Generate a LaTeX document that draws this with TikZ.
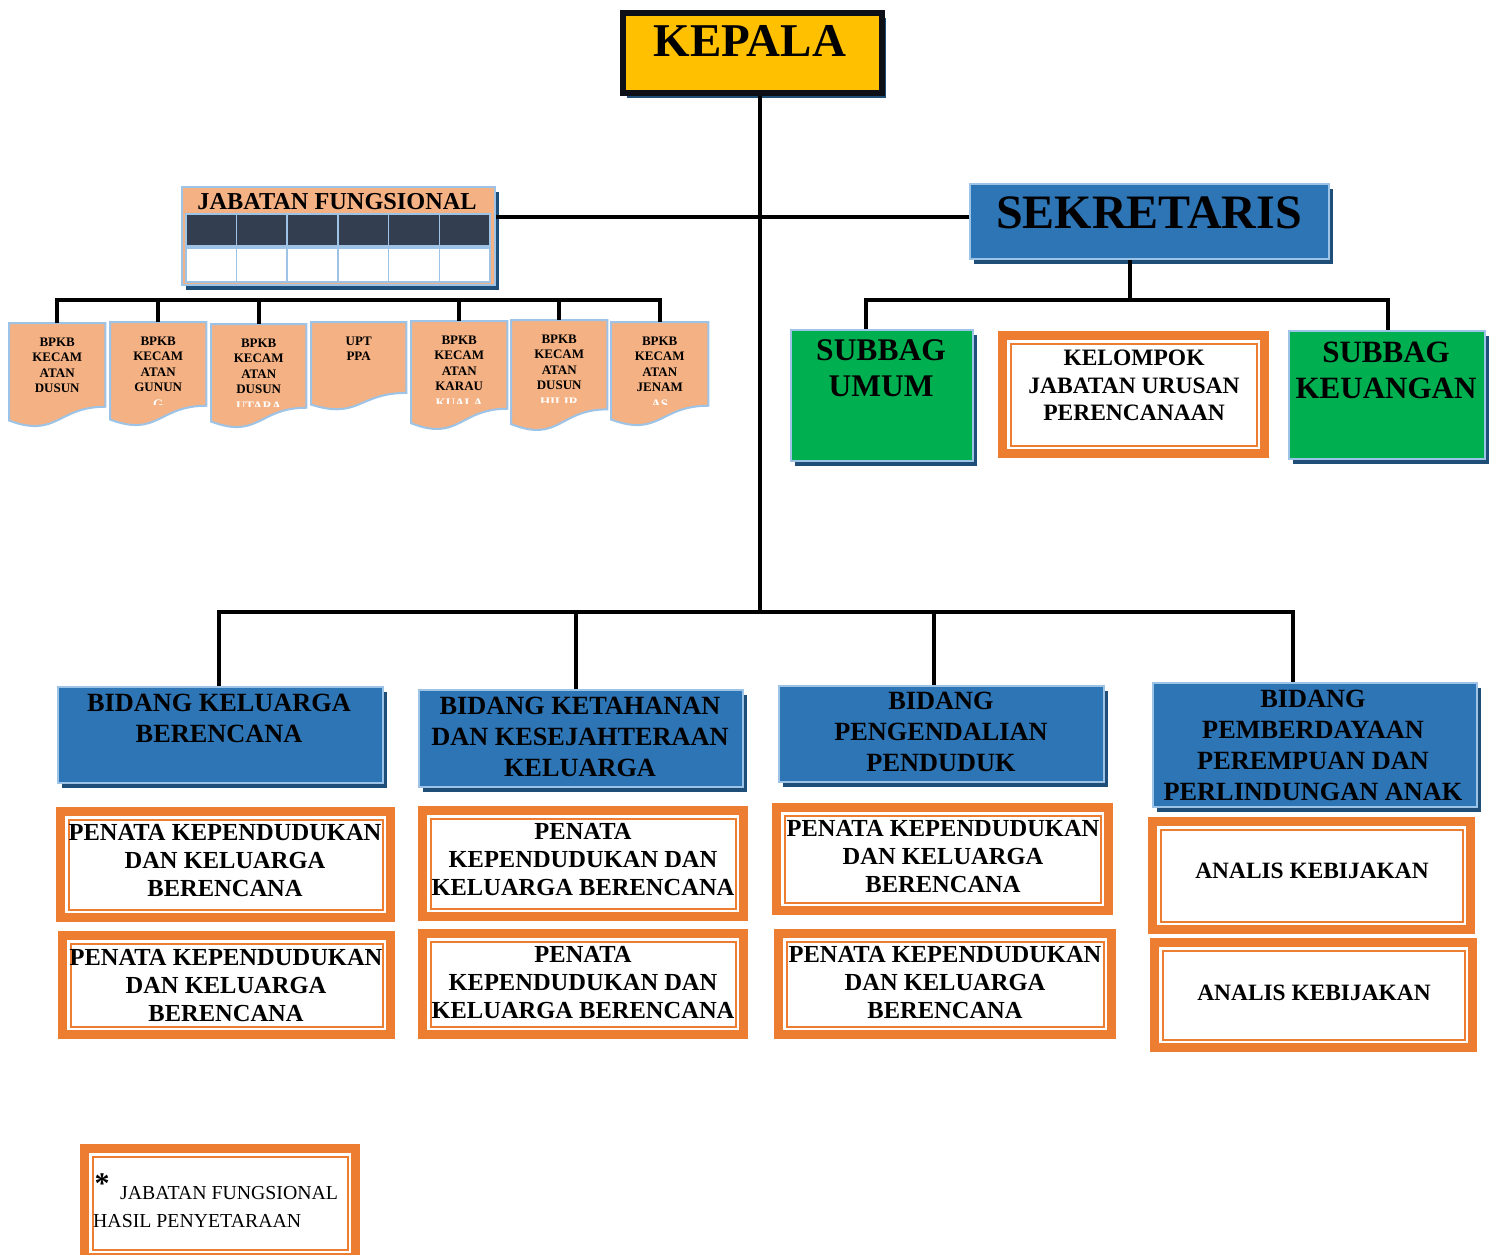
\documentclass[tikz,border=0pt]{standalone}
\usepackage{fontspec}
\setmainfont{Liberation Serif}
\usetikzlibrary{shadows,calc}
\definecolor{mblue}{HTML}{2E75B6}
\definecolor{lblue}{HTML}{9DC3E6}
\definecolor{dblue}{HTML}{1F4E79}
\definecolor{gr}{HTML}{00B050}
\definecolor{orng}{HTML}{ED7D31}
\definecolor{peach}{HTML}{F4B183}
\definecolor{dcell}{HTML}{333F50}
\definecolor{kyellow}{HTML}{FFC000}
\definecolor{kblack}{HTML}{0D1117}
\tikzset{
  shbox/.style={anchor=north west, inner sep=0, drop shadow={shadow xshift=4pt, shadow yshift=-5pt, fill=dblue, opacity=1, draw=none}},
  bluebox/.style={shbox, fill=mblue, draw=lblue, line width=2pt},
  greenbox/.style={shbox, fill=gr, draw=lblue, line width=2pt},
  obox/.style={fill=orng, anchor=north west, inner sep=0, path picture={
     \fill[white] ([shift={(9pt,-9pt)}]path picture bounding box.north west) rectangle ([shift={(-9pt,9pt)}]path picture bounding box.south east);
     \draw[orng, line width=2pt] ([shift={(12.5pt,-12.5pt)}]path picture bounding box.north west) rectangle ([shift={(-12.5pt,12.5pt)}]path picture bounding box.south east);}},
  conn/.style={draw=black, line width=4pt},
  docline/.style={fill=peach, draw=lblue, line width=2pt},
  doctxt/.style={inner sep=0, align=center, font=\fontsize{13}{15.5}\selectfont\bfseries},
  tx/.style={inner sep=0, align=center, text=black},
  cellbox/.style={anchor=north west, inner sep=0, draw=lblue, line width=1.5pt},
}
\newcommand\docbox[7]{%
  \node[anchor=north west, minimum width=#4pt, minimum height=#5pt, inner sep=0] (#1) at (#2,#3) {};
  \draw[docline] (#1.north west) -- (#1.north east) -- ($(#1.north east)!0.802!(#1.south east)$)
     .. controls ($(#1.north)!0.802!(#1.south)$) and ($(#1.north)!1.107!(#1.south)$) .. ($(#1.north west)!0.934!(#1.south west)$) -- cycle;
  \node[doctxt, anchor=north] (#1t) at ([yshift=-14.7pt]#1.north) {#6};
  \begin{scope}
    \clip ($(#1.north west)+(0,77.5)$) rectangle ($(#1.north east)+(0,82)$);
    \node[doctxt, anchor=north, text=white] (#1f) at ([yshift=-77.5pt]#1.north) {#7};
  \end{scope}
}
\begin{document}
\begin{tikzpicture}[x=1pt,y=-1pt]
\useasboundingbox[fill=white] (0,0) rectangle (1493,1254);

% KEPALA
\node[shbox, draw=kblack, line width=6pt, fill=kyellow, minimum width=259pt, minimum height=80pt] (kep) at (620,10) {};
\node[tx, font=\fontsize{47}{47}\selectfont\bfseries] (tkep) at (750,41) {KEPALA};

% SEKRETARIS
\node[bluebox, minimum width=359pt, minimum height=75pt] (sek) at (969,183) {};
\node[tx, font=\fontsize{48}{48}\selectfont\bfseries] (tsek) at (1149,213) {SEKRETARIS};

% JABATAN FUNGSIONAL
\node[shbox, fill=peach, draw=lblue, line width=2pt, minimum width=313pt, minimum height=98pt] (jab) at (181,186) {};
\node[tx, font=\fontsize{24.3}{24.3}\selectfont\bfseries] (tjab) at (337,202) {JABATAN FUNGSIONAL};
\foreach \i in {0,...,5} {
  \node[cellbox, fill=dcell, minimum width=50.7pt, minimum height=32pt] (c\i) at ({185+\i*50.7},213) {};
  \node[cellbox, fill=white, minimum width=50.7pt, minimum height=34pt] (w\i) at ({185+\i*50.7},247) {};
}

% documents
\docbox{d1}{9}{323}{96}{104}{BPKB\\KECAM\\ATAN\\DUSUN}{}
\docbox{d2}{110}{322}{96}{104}{BPKB\\KECAM\\ATAN\\GUNUN}{G}
\docbox{d3}{211}{324}{95}{104}{BPKB\\KECAM\\ATAN\\DUSUN}{UTARA}
\docbox{d4}{311}{322}{95}{88}{UPT\\PPA}{}
\docbox{d5}{411}{321}{96}{109}{BPKB\\KECAM\\ATAN\\KARAU}{KUALA}
\docbox{d6}{511}{320}{96}{111}{BPKB\\KECAM\\ATAN\\DUSUN}{HILIR}
\docbox{d7}{611}{322}{97}{104}{BPKB\\KECAM\\ATAN\\JENAM}{AS}

% Subbag / Kelompok
\node[greenbox, minimum width=182pt, minimum height=131pt] (umum) at (790,329) {};
\node[tx, font=\fontsize{31.5}{36}\selectfont\bfseries] (tumum) at (881,368) {SUBBAG\\UMUM};
\node[obox, minimum width=271pt, minimum height=127pt] (kel) at (998,331) {};
\node[tx, font=\fontsize{23.5}{27.5}\selectfont\bfseries] (tkel) at (1134,385.5) {KELOMPOK\\JABATAN URUSAN\\PERENCANAAN};
\node[greenbox, minimum width=196pt, minimum height=128pt] (keu) at (1288,330) {};
\node[tx, font=\fontsize{31}{36}\selectfont\bfseries] (tkeu) at (1386,370) {SUBBAG\\KEUANGAN};

% Bidang
\tikzset{bt/.style={tx, font=\fontsize{26.3}{31}\selectfont\bfseries}}
\node[bluebox, minimum width=325pt, minimum height=96pt] (bid1) at (57,686) {};
\node[bt] (tb1) at (219,718.5) {BIDANG KELUARGA\\BERENCANA};
\node[bluebox, minimum width=324pt, minimum height=97pt] (bid2) at (418,689) {};
\node[bt] (tb2) at (580,736.5) {BIDANG KETAHANAN\\DAN KESEJAHTERAAN\\KELUARGA};
\node[bluebox, minimum width=325pt, minimum height=96pt] (bid3) at (778,685) {};
\node[bt] (tb3) at (941,732) {BIDANG\\PENGENDALIAN\\PENDUDUK};
\node[bluebox, minimum width=324pt, minimum height=124pt] (bid4) at (1152,682) {};
\node[bt] (tb4) at (1313,745.5) {BIDANG\\PEMBERDAYAAN\\PEREMPUAN DAN\\PERLINDUNGAN ANAK};

% Penata boxes
\tikzset{pt/.style={tx, font=\fontsize{24.5}{28}\selectfont\bfseries}}
\node[obox, minimum width=339pt, minimum height=115pt] (p1a) at (56,807) {};
\node[pt] (tp1a) at (225,861) {PENATA KEPENDUDUKAN\\DAN KELUARGA\\BERENCANA};
\node[obox, minimum width=337pt, minimum height=108pt] (p1b) at (58,931) {};
\node[pt] (tp1b) at (226,986) {PENATA KEPENDUDUKAN\\DAN KELUARGA\\BERENCANA};
\node[obox, minimum width=330pt, minimum height=115pt] (p2a) at (418,806) {};
\node[pt] (tp2a) at (583,859.5) {PENATA\\KEPENDUDUKAN DAN\\KELUARGA BERENCANA};
\node[obox, minimum width=330pt, minimum height=110pt] (p2b) at (418,929) {};
\node[pt] (tp2b) at (583,983) {PENATA\\KEPENDUDUKAN DAN\\KELUARGA BERENCANA};
\node[obox, minimum width=341pt, minimum height=112pt] (p3a) at (772,803) {};
\node[pt] (tp3a) at (943,857) {PENATA KEPENDUDUKAN\\DAN KELUARGA\\BERENCANA};
\node[obox, minimum width=342pt, minimum height=110pt] (p3b) at (774,929) {};
\node[pt] (tp3b) at (945,983) {PENATA KEPENDUDUKAN\\DAN KELUARGA\\BERENCANA};
\node[obox, minimum width=327pt, minimum height=117pt] (p4a) at (1148,817) {};
\node[tx, font=\fontsize{23.4}{28}\selectfont\bfseries] (tp4a) at (1312,871) {ANALIS KEBIJAKAN};
\node[obox, minimum width=327pt, minimum height=114pt] (p4b) at (1150,938) {};
\node[tx, font=\fontsize{23.4}{28}\selectfont\bfseries] (tp4b) at (1314,993) {ANALIS KEBIJAKAN};

% footnote
\node[obox, minimum width=280pt, minimum height=118pt] (fn) at (80,1144) {};
\node[tx, anchor=base, font=\fontsize{30}{30}\selectfont\bfseries] (star) at (102,1193) {*};
\node[tx, anchor=base west, font=\fontsize{19.8}{19.8}\selectfont] (fn1) at (120,1199) {JABATAN FUNGSIONAL};
\node[tx, anchor=base west, font=\fontsize{19.8}{19.8}\selectfont] (fn2) at (93,1227) {HASIL PENYETARAAN};

% connectors
\coordinate (vb) at (760,612);
\coordinate (hj) at (760,217);
\draw[conn] (vb |- kep.south) -- (vb);
\draw[conn] (jab.east |- hj) -- (sek.west |- hj);
\coordinate (sbus) at (1130,300);
\coordinate (sl) at (866,300);
\coordinate (sr) at (1388,300);
\draw[conn] (sbus |- sek.south) -- (sbus);
\draw[conn] (sl |- umum.north) -- (sl) -- (sr) -- (sr |- keu.north);
\coordinate (jb) at (0,300);
\draw[conn] (d1.north) -- (d1.north |- jb) -- (d7.north |- jb) -- (d7.north);
\foreach \d in {d2,d3,d5,d6} { \draw[conn] (\d.north |- jb) -- (\d.north); }
\coordinate (b1) at (219,612);
\coordinate (b2) at (576,612);
\coordinate (b3) at (934,612);
\coordinate (b4) at (1293,612);
\draw[conn] (b1 |- bid1.north) -- (b1) -- (b4) -- (b4 |- bid4.north);
\draw[conn] (b2) -- (b2 |- bid2.north);
\draw[conn] (b3) -- (b3 |- bid3.north);
\end{tikzpicture}
\end{document}
